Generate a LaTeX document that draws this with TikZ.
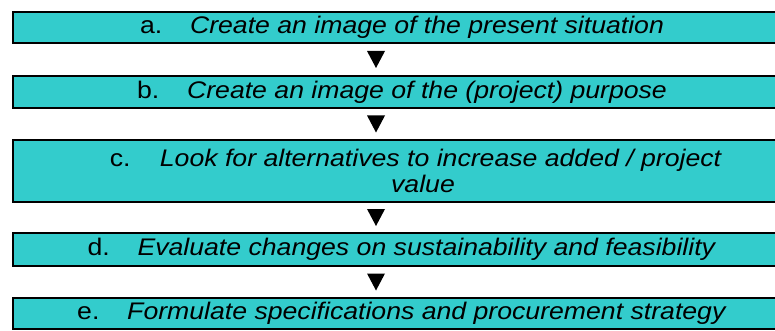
\documentclass[tikz,border=0pt]{standalone}
\usepackage{fontspec}
\setmainfont{Liberation Sans}[FakeStretch=1.11]
\usepackage{xcolor}
\usetikzlibrary{calc}
\definecolor{stepteal}{RGB}{51,204,204}
\newcommand{\steplabel}[1]{\makebox[50pt][l]{#1}}

\tikzset{
    stepbox/.style={draw=black, fill=stepteal, line width=2pt, rectangle,
        anchor=west, inner sep=0pt, align=center,
        font=\fontsize{24}{25.5}\selectfont},
}

\begin{document}
\begin{tikzpicture}[x=1pt,y=1pt]
            \useasboundingbox (0,0) rectangle (775,-331);
            \clip (0,0) rectangle (775,-331);
            % the five steps, left edges lined up
            \node[stepbox, minimum width=778pt, minimum height=31pt] (a) at (12,-27.5)
                {\steplabel{a.}\textit{Create an image of the present situation}};
            \node[stepbox, minimum width=778pt, minimum height=32pt] (b) at (12,-92)
                {\steplabel{b.}\textit{Create an image of the (project) purpose}};
            \node[stepbox, minimum width=806pt, minimum height=62pt] (c) at (12,-171)
                {\steplabel{c.}\textit{Look for alternatives to increase added /\ project}\\
                 \hspace*{14pt}\textit{value}};
            \node[stepbox, minimum width=778pt, minimum height=33pt] (d) at (12,-249.5)
                {\steplabel{d.}\textit{Evaluate changes on sustainability and feasibility}};
            \node[stepbox, minimum width=778pt, minimum height=31pt] (e) at (12,-313.5)
                {\steplabel{e.}\textit{Formulate specifications and procurement strategy}};
            % arrow heads in between
            \foreach \from/\to in {a/b, b/c, c/d, d/e} {
                \path let \p1 = ($(\from.south)!0.5!(\to.north)$) in
                    coordinate (\from\to) at (376,\y1);
                \fill[black] (\from\to) ++(-9,8.5) -- ++(18,0) -- ++(-9,-17) -- cycle;
            }
        \end{tikzpicture}
\end{document}
